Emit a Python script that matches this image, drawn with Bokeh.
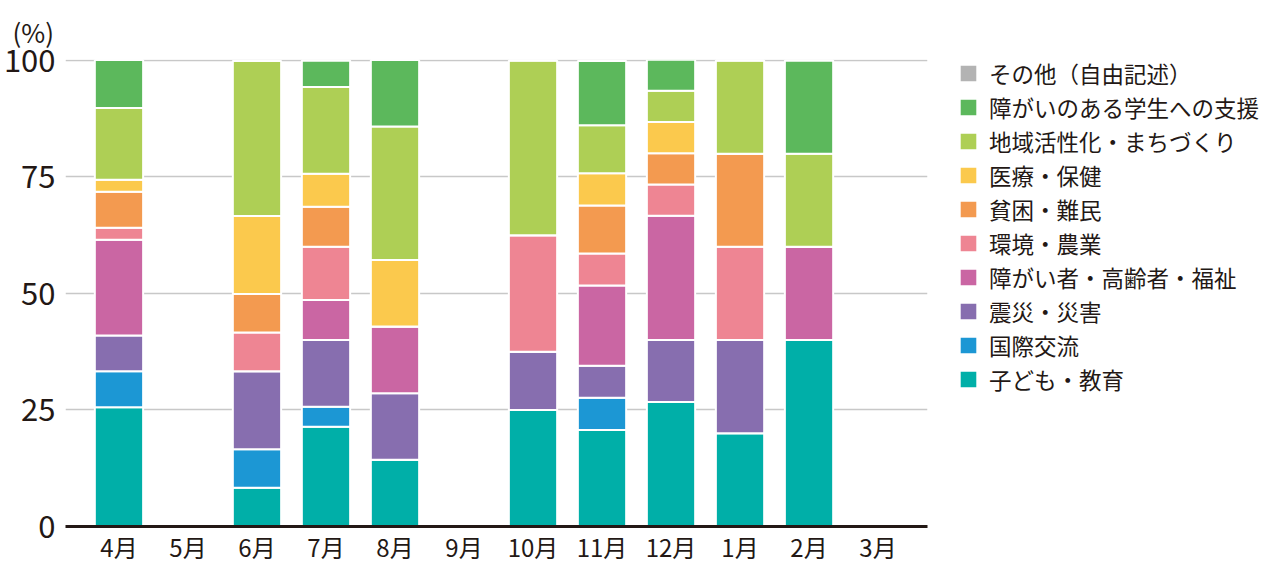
from bokeh.plotting import figure
from bokeh.models import ColumnDataSource, Legend, LegendItem, Title, FixedTicker, Range1d
from bokeh.embed import file_html
from bokeh.resources import INLINE

months = ["4月", "5月", "6月", "7月", "8月", "9月", "10月", "11月", "12月", "1月", "2月", "3月"]

categories = [
    "子ども・教育",
    "国際交流",
    "震災・災害",
    "障がい者・高齢者・福祉",
    "環境・農業",
    "貧困・難民",
    "医療・保健",
    "地域活性化・まちづくり",
    "障がいのある学生への支援",
    "その他（自由記述）",
]

colors = ["#00afa8", "#1c97d4", "#876eaf", "#ca66a3", "#ee8593",
          "#f39a50", "#fbc94d", "#aecf55", "#5cb85c", "#b3b3b3"]

kodomo = [25.6, 0, 8.3, 21.4, 14.3, 0, 25.0, 20.7, 26.7, 20.0, 40.0, 0]
kokusai = [7.7, 0, 8.3, 4.3, 0, 0, 0, 6.9, 0, 0, 0, 0]
shinsai = [7.7, 0, 16.7, 14.3, 14.3, 0, 12.5, 6.9, 13.3, 20.0, 0, 0]
fukushi = [20.5, 0, 0, 8.6, 14.3, 0, 0, 17.2, 26.7, 0, 20.0, 0]
kankyo = [2.6, 0, 8.3, 11.4, 0, 0, 25.0, 6.9, 6.7, 20.0, 0, 0]
hinkon = [7.7, 0, 8.3, 8.6, 0, 0, 0, 10.3, 6.7, 20.0, 0, 0]
iryo = [2.6, 0, 16.7, 7.1, 14.3, 0, 0, 6.9, 6.7, 0, 0, 0]
chiiki = [15.4, 0, 33.3, 18.6, 28.6, 0, 37.5, 10.3, 6.7, 20.0, 20.0, 0]
gakusei = [10.3, 0, 0, 5.7, 14.3, 0, 0, 13.8, 6.7, 0, 20.0, 0]
sonota = [0, 0, 0, 0, 0, 0, 0, 0, 0, 0, 0, 0]

series = [kodomo, kokusai, shinsai, fukushi, kankyo, hinkon, iryo, chiiki, gakusei, sonota]

FONT = "Noto Sans CJK JP"
TXT = "#231815"

data = {"x": list(range(len(months)))}
for c, s in zip(categories, series):
    data[c] = s
source = ColumnDataSource(data)

p = figure(frame_width=862, frame_height=467, output_backend="svg", toolbar_location=None,
           x_range=Range1d(-0.775, 11.717), y_range=Range1d(0, 100.2),
           min_border_left=0, min_border_top=0, min_border_right=336, min_border_bottom=0)
p.outline_line_color = None
p.background_fill_color = "white"
p.border_fill_color = "white"

renderers = p.vbar_stack(categories, x="x", width=0.7, color=colors,
                         line_color="white", line_width=2, source=source)

# axes
p.xaxis.ticker = FixedTicker(ticks=list(range(len(months))))
p.xaxis.major_label_overrides = {i: m for i, m in enumerate(months)}
p.xaxis.axis_line_color = TXT
p.xaxis.axis_line_width = 3
p.xaxis.major_tick_line_color = None
p.xaxis.minor_tick_line_color = None
p.xaxis.major_tick_out = 0
p.xaxis.minor_tick_out = 0
p.xaxis.major_label_text_font = FONT
p.xaxis.major_label_text_font_size = "24px"
p.xaxis.major_label_text_color = TXT
p.xaxis.major_label_standoff = 2

p.yaxis.ticker = FixedTicker(ticks=[0, 25, 50, 75, 100])
p.yaxis.axis_line_color = None
p.yaxis.major_tick_line_color = None
p.yaxis.minor_tick_line_color = None
p.yaxis.major_tick_out = 0
p.yaxis.minor_tick_out = 0
p.yaxis.major_label_text_font = FONT
p.yaxis.major_label_text_font_size = "31px"
p.yaxis.major_label_text_color = TXT
p.yaxis.major_label_standoff = 10

p.xgrid.grid_line_color = None
p.ygrid.ticker = FixedTicker(ticks=[25, 50, 75, 100])
p.ygrid.grid_line_color = "#c8c8c8"
p.ygrid.grid_line_width = 1.5

# unit label
p.add_layout(Title(text="(%)", align="left", offset=-53, standoff=20,
                   text_font=FONT, text_font_size="26px", text_color=TXT,
                   text_font_style="normal"), "above")

items = [LegendItem(label=c, renderers=[r]) for c, r in zip(categories, renderers)][::-1]
legend = Legend(items=items, location=(30, 131), orientation="vertical",
                label_text_font=FONT, label_text_font_size="22.5px", label_text_color=TXT,
                glyph_width=22, glyph_height=22, label_height=20, spacing=2,
                padding=0, margin=0, label_standoff=10,
                border_line_alpha=0, background_fill_alpha=0)
p.add_layout(legend, "right")

open("out.html", "w").write(file_html(p, INLINE))
